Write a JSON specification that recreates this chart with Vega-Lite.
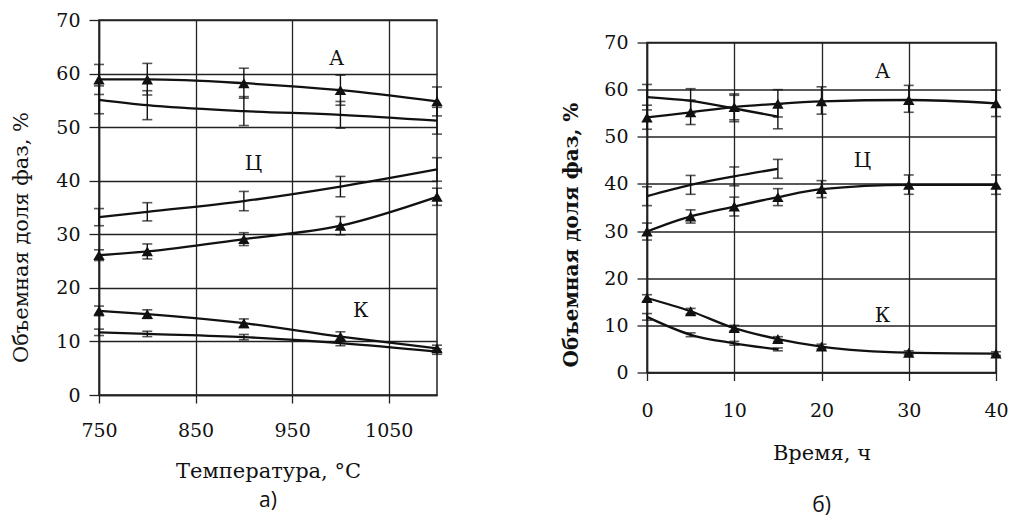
{
  "$schema": "https://vega.github.io/schema/vega-lite/v6.json",
  "background": "white",
  "padding": {"left": 10, "top": 10, "right": 2, "bottom": 0},
  "bounds": "flush",
  "center": true,
  "spacing": 210,
  "config": {
    "view": {"stroke": "#222", "strokeWidth": 1.5},
    "axis": {
      "labelFont": "DejaVu Serif", "labelFontSize": 19, "labelColor": "#111", "labelFlush": false, "format": "d",
      "titleFont": "DejaVu Serif", "titleFontSize": 21, "titleFontWeight": "normal", "titleColor": "#111",
      "gridColor": "#222", "gridWidth": 1.3, "gridOpacity": 1,
      "domainColor": "#222", "domainWidth": 1.5,
      "tickColor": "#222", "tickWidth": 1.3, "tickSize": 10
    },
    "title": {"font": "Open Sans", "fontSize": 21, "fontWeight": "normal", "color": "#111", "orient": "bottom"}
  },
  "datasets": {
    "temp": [
      {"T": 750, "v": 58.9, "lo": 56.1, "hi": 61.7, "s": "A-tri", "tri": true},
      {"T": 800, "v": 58.9, "lo": 56.0, "hi": 61.9, "s": "A-tri", "tri": true},
      {"T": 900, "v": 58.2, "lo": 55.4, "hi": 61.0, "s": "A-tri", "tri": true},
      {"T": 1000, "v": 56.9, "lo": 54.1, "hi": 59.7, "s": "A-tri", "tri": true},
      {"T": 1100, "v": 54.8, "lo": 52.1, "hi": 57.5, "s": "A-tri", "tri": true},
      {"T": 750, "v": 55.1, "lo": 52.5, "hi": 57.7, "s": "A-plain", "tri": false},
      {"T": 800, "v": 54.1, "lo": 51.4, "hi": 56.8, "s": "A-plain", "tri": false},
      {"T": 900, "v": 53.0, "lo": 50.3, "hi": 55.7, "s": "A-plain", "tri": false},
      {"T": 1000, "v": 52.3, "lo": 49.8, "hi": 54.8, "s": "A-plain", "tri": false},
      {"T": 1100, "v": 51.2, "lo": 48.7, "hi": 53.7, "s": "A-plain", "tri": false},
      {"T": 750, "v": 33.2, "lo": 31.6, "hi": 34.8, "s": "C-plain", "tri": false},
      {"T": 800, "v": 34.2, "lo": 32.5, "hi": 35.9, "s": "C-plain", "tri": false},
      {"T": 900, "v": 36.2, "lo": 34.4, "hi": 38.0, "s": "C-plain", "tri": false},
      {"T": 1000, "v": 38.9, "lo": 37.0, "hi": 40.8, "s": "C-plain", "tri": false},
      {"T": 1100, "v": 42.1, "lo": 39.9, "hi": 44.3, "s": "C-plain", "tri": false},
      {"T": 750, "v": 26.1, "lo": 25.1, "hi": 27.1, "s": "C-tri", "tri": true},
      {"T": 800, "v": 26.8, "lo": 25.4, "hi": 28.2, "s": "C-tri", "tri": true},
      {"T": 900, "v": 29.1, "lo": 27.9, "hi": 30.3, "s": "C-tri", "tri": true},
      {"T": 1000, "v": 31.6, "lo": 29.9, "hi": 33.3, "s": "C-tri", "tri": true},
      {"T": 1100, "v": 37.0, "lo": 35.4, "hi": 38.6, "s": "C-tri", "tri": true},
      {"T": 750, "v": 15.7, "lo": 14.8, "hi": 16.6, "s": "K-tri", "tri": true},
      {"T": 800, "v": 15.1, "lo": 14.3, "hi": 15.9, "s": "K-tri", "tri": true},
      {"T": 900, "v": 13.4, "lo": 12.6, "hi": 14.2, "s": "K-tri", "tri": true},
      {"T": 1000, "v": 10.9, "lo": 10.0, "hi": 11.8, "s": "K-tri", "tri": true},
      {"T": 1100, "v": 8.7, "lo": 8.1, "hi": 9.3, "s": "K-tri", "tri": true},
      {"T": 750, "v": 11.7, "lo": 11.1, "hi": 12.3, "s": "K-plain", "tri": false},
      {"T": 800, "v": 11.4, "lo": 10.9, "hi": 11.9, "s": "K-plain", "tri": false},
      {"T": 900, "v": 10.8, "lo": 10.3, "hi": 11.3, "s": "K-plain", "tri": false},
      {"T": 1000, "v": 9.7, "lo": 9.2, "hi": 10.2, "s": "K-plain", "tri": false},
      {"T": 1100, "v": 8.1, "lo": 7.6, "hi": 8.6, "s": "K-plain", "tri": false}
    ],
    "tempLabels": [
      {"T": 996, "v": 62.7, "label": "А"},
      {"T": 910, "v": 43.2, "label": "Ц"},
      {"T": 1021, "v": 15.7, "label": "К"}
    ],
    "time": [
      {"t": 0, "v": 54.1, "lo": 51.6, "hi": 56.7, "s": "A-tri", "tri": true},
      {"t": 5, "v": 55.2, "lo": 52.6, "hi": 57.8, "s": "A-tri", "tri": true},
      {"t": 10, "v": 56.3, "lo": 53.6, "hi": 59.1, "s": "A-tri", "tri": true},
      {"t": 15, "v": 57.0, "lo": 54.2, "hi": 60.0, "s": "A-tri", "tri": true},
      {"t": 20, "v": 57.5, "lo": 54.8, "hi": 60.6, "s": "A-tri", "tri": true},
      {"t": 30, "v": 57.8, "lo": 55.2, "hi": 60.9, "s": "A-tri", "tri": true},
      {"t": 40, "v": 57.1, "lo": 54.3, "hi": 59.9, "s": "A-tri", "tri": true},
      {"t": 0, "v": 58.4, "lo": 55.7, "hi": 61.1, "s": "A-plain", "tri": false},
      {"t": 5, "v": 57.6, "lo": 55.0, "hi": 60.2, "s": "A-plain", "tri": false},
      {"t": 10, "v": 56.0, "lo": 53.2, "hi": 58.8, "s": "A-plain", "tri": false},
      {"t": 15, "v": 54.3, "lo": 51.7, "hi": 56.9, "s": "A-plain", "tri": false},
      {"t": 0, "v": 37.4, "lo": 35.4, "hi": 39.4, "s": "C-plain", "tri": false},
      {"t": 5, "v": 39.8, "lo": 37.8, "hi": 41.8, "s": "C-plain", "tri": false},
      {"t": 10, "v": 41.6, "lo": 39.6, "hi": 43.6, "s": "C-plain", "tri": false},
      {"t": 15, "v": 43.2, "lo": 41.2, "hi": 45.2, "s": "C-plain", "tri": false},
      {"t": 0, "v": 29.9, "lo": 28.1, "hi": 31.7, "s": "C-tri", "tri": true},
      {"t": 5, "v": 33.1, "lo": 31.7, "hi": 34.5, "s": "C-tri", "tri": true},
      {"t": 10, "v": 35.2, "lo": 33.2, "hi": 37.2, "s": "C-tri", "tri": true},
      {"t": 15, "v": 37.2, "lo": 35.4, "hi": 39.0, "s": "C-tri", "tri": true},
      {"t": 20, "v": 38.9, "lo": 37.1, "hi": 40.7, "s": "C-tri", "tri": true},
      {"t": 30, "v": 39.8, "lo": 37.8, "hi": 41.9, "s": "C-tri", "tri": true},
      {"t": 40, "v": 39.8, "lo": 37.8, "hi": 41.9, "s": "C-tri", "tri": true},
      {"t": 0, "v": 15.8, "lo": 15.1, "hi": 16.5, "s": "K-tri", "tri": true},
      {"t": 5, "v": 13.0, "lo": 12.4, "hi": 13.6, "s": "K-tri", "tri": true},
      {"t": 10, "v": 9.4, "lo": 8.8, "hi": 10.0, "s": "K-tri", "tri": true},
      {"t": 15, "v": 7.1, "lo": 6.6, "hi": 7.6, "s": "K-tri", "tri": true},
      {"t": 20, "v": 5.5, "lo": 5.0, "hi": 6.0, "s": "K-tri", "tri": true},
      {"t": 30, "v": 4.2, "lo": 3.8, "hi": 4.6, "s": "K-tri", "tri": true},
      {"t": 40, "v": 4.0, "lo": 3.6, "hi": 4.4, "s": "K-tri", "tri": true},
      {"t": 0, "v": 11.8, "lo": 11.1, "hi": 12.5, "s": "K-plain", "tri": false},
      {"t": 5, "v": 8.0, "lo": 7.6, "hi": 8.4, "s": "K-plain", "tri": false},
      {"t": 10, "v": 6.2, "lo": 5.8, "hi": 6.6, "s": "K-plain", "tri": false},
      {"t": 15, "v": 4.9, "lo": 4.6, "hi": 5.2, "s": "K-plain", "tri": false}
    ],
    "timeLabels": [
      {"t": 27, "v": 63.7, "label": "А"},
      {"t": 24.7, "v": 44.9, "label": "Ц"},
      {"t": 27, "v": 12.0, "label": "К"}
    ]
  },
  "hconcat": [
    {
      "width": 338,
      "height": 375,
      "title": {"text": "а)", "orient": "bottom", "offset": 9},
      "data": {"name": "temp"},
      "encoding": {
        "x": {
          "field": "T", "type": "quantitative",
          "scale": {"domain": [750, 1100], "nice": false, "zero": false},
          "axis": {"values": [750, 850, 950, 1050], "title": "Температура, °C", "tickSize": 8, "labelPadding": 18, "titlePadding": 20}
        },
        "y": {
          "field": "v", "type": "quantitative",
          "scale": {"domain": [0, 70], "nice": false},
          "axis": {"values": [0, 10, 20, 30, 40, 50, 60, 70], "title": "Объемная доля фаз, %", "labelPadding": 9, "titlePadding": 24, "titleY": 217}
        }
      },
      "layer": [
        {
          "mark": {"type": "line", "interpolate": "monotone", "color": "#111", "strokeWidth": 2.3},
          "encoding": {"detail": {"field": "s"}}
        },
        {
          "mark": {"type": "errorbar", "color": "#111", "thickness": 1.4, "ticks": {"size": 10, "thickness": 1.6, "color": "#111"}},
          "encoding": {
            "y": {"field": "lo", "type": "quantitative", "title": "Объемная доля фаз, %"},
            "y2": {"field": "hi"},
            "detail": {"field": "s"}
          }
        },
        {
          "transform": [{"filter": "datum.tri"}],
          "mark": {"type": "point", "shape": "triangle-up", "filled": true, "color": "#111", "opacity": 1, "size": 130}
        },
        {
          "data": {"name": "tempLabels"},
          "mark": {"type": "text", "font": "DejaVu Serif", "fontSize": 20, "color": "#111", "baseline": "middle", "align": "center"},
          "encoding": {"text": {"field": "label"}}
        }
      ]
    },
    {
      "width": 349,
      "height": 330,
      "title": {"text": "б)", "orient": "bottom", "offset": 31},
      "data": {"name": "time"},
      "encoding": {
        "x": {
          "field": "t", "type": "quantitative",
          "scale": {"domain": [0, 40], "nice": false},
          "axis": {"values": [0, 10, 20, 30, 40], "title": "Время, ч", "tickSize": 8, "labelPadding": 21, "titlePadding": 22}
        },
        "y": {
          "field": "v", "type": "quantitative",
          "scale": {"domain": [0, 70], "nice": false},
          "axis": {"values": [0, 10, 20, 30, 40, 50, 60, 70], "title": "Объемная доля фаз, %", "titleFontWeight": "bold", "titleFontSize": 20, "labelPadding": 9, "titlePadding": 22, "titleY": 192}
        }
      },
      "layer": [
        {
          "mark": {"type": "line", "interpolate": "monotone", "color": "#111", "strokeWidth": 2.3},
          "encoding": {"detail": {"field": "s"}}
        },
        {
          "mark": {"type": "errorbar", "color": "#111", "thickness": 1.4, "ticks": {"size": 10, "thickness": 1.6, "color": "#111"}},
          "encoding": {
            "y": {"field": "lo", "type": "quantitative", "title": "Объемная доля фаз, %"},
            "y2": {"field": "hi"},
            "detail": {"field": "s"}
          }
        },
        {
          "transform": [{"filter": "datum.tri"}],
          "mark": {"type": "point", "shape": "triangle-up", "filled": true, "color": "#111", "opacity": 1, "size": 130}
        },
        {
          "data": {"name": "timeLabels"},
          "mark": {"type": "text", "font": "DejaVu Serif", "fontSize": 20, "color": "#111", "baseline": "middle", "align": "center"},
          "encoding": {"text": {"field": "label"}}
        }
      ]
    }
  ]
}
